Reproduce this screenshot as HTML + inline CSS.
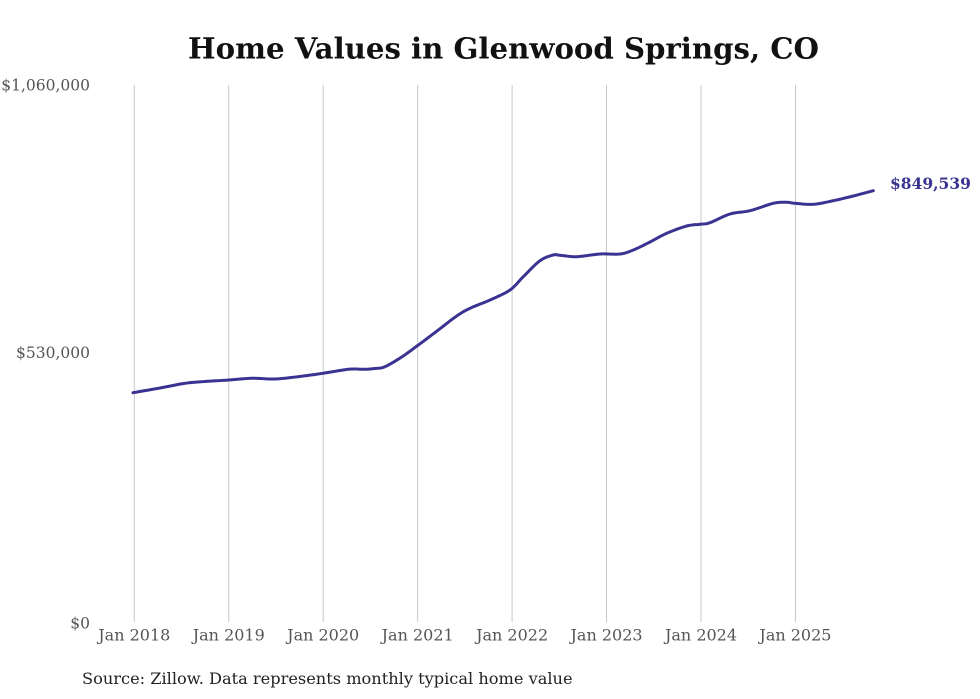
<!DOCTYPE html>
<html>
<head>
<meta charset="utf-8">
<style>
  html,body{margin:0;padding:0;background:#fff;}
  body{width:980px;height:699px;overflow:hidden;}
  svg{display:block;}
  text{font-family:"DejaVu Serif","Liberation Serif",serif;}
</style>
</head>
<body>
<svg width="980" height="699" viewBox="0 0 980 699" xmlns="http://www.w3.org/2000/svg">
  <rect width="980" height="699" fill="#fff"/>
  <text x="503.5" y="58.5" text-anchor="middle" font-size="29.2" font-weight="bold" fill="#111">Home Values in Glenwood Springs, CO</text>

  <g stroke="#c8c8c8" stroke-width="1">
    <line x1="134.3" y1="85" x2="134.3" y2="622"/>
    <line x1="228.75" y1="85" x2="228.75" y2="622"/>
    <line x1="323.2" y1="85" x2="323.2" y2="622"/>
    <line x1="417.65" y1="85" x2="417.65" y2="622"/>
    <line x1="512.1" y1="85" x2="512.1" y2="622"/>
    <line x1="606.55" y1="85" x2="606.55" y2="622"/>
    <line x1="701" y1="85" x2="701" y2="622"/>
    <line x1="795.45" y1="85" x2="795.45" y2="622"/>
  </g>

  <g font-size="15.5" fill="#555" text-anchor="end">
    <text x="90" y="90.5">$1,060,000</text>
    <text x="90" y="358">$530,000</text>
    <text x="90" y="628.5">$0</text>
  </g>

  <g font-size="16" fill="#555" text-anchor="middle">
    <text x="134.3" y="640.5">Jan 2018</text>
    <text x="228.75" y="640.5">Jan 2019</text>
    <text x="323.2" y="640.5">Jan 2020</text>
    <text x="417.65" y="640.5">Jan 2021</text>
    <text x="512.1" y="640.5">Jan 2022</text>
    <text x="606.55" y="640.5">Jan 2023</text>
    <text x="701" y="640.5">Jan 2024</text>
    <text x="795.45" y="640.5">Jan 2025</text>
  </g>

  <polyline id="ln" fill="none" stroke="#3b3391" stroke-width="3" stroke-linejoin="round" stroke-linecap="round"
    points="133,392.7 160,388 185,383.3 205,381.5 229,380 252,378.3 275,379 298,376.7 323,373.3 340,370.5 351.7,369 365,369.3 375,368.5 385,366.7 401.7,357 417,346 437,331 456.7,316 470,308.3 490,300 510,290 523.3,276.7 540,260.7 553.3,255 560,255.3 576.7,256.7 600,254 620,254 633.3,250 650,242 666.7,233.3 686.7,226 700,224.3 710,222.7 730,214 750,210.7 773.3,203.3 786.7,202.3 795,203.3 813.3,204.3 833.3,200.7 853.3,196 873.3,190.7"/>

  <text x="890" y="189" font-size="15.5" font-weight="bold" fill="#3b3391">$849,539</text>

  <text x="82" y="684" font-size="16.2" fill="#222">Source: Zillow. Data represents monthly typical home value</text>
</svg>
<script>
(function(){
  var el=document.getElementById('ln');
  var raw=el.getAttribute('points').trim().split(/\s+/).map(function(s){var a=s.split(',');return [+a[0],+a[1]];});
  var out=[];
  for(var i=0;i<raw.length-1;i++){
    var p0=raw[Math.max(0,i-1)],p1=raw[i],p2=raw[i+1],p3=raw[Math.min(raw.length-1,i+2)];
    for(var k=0;k<8;k++){
      var t=k/8,t2=t*t,t3=t2*t;
      var x=0.5*((2*p1[0])+(-p0[0]+p2[0])*t+(2*p0[0]-5*p1[0]+4*p2[0]-p3[0])*t2+(-p0[0]+3*p1[0]-3*p2[0]+p3[0])*t3);
      var y=0.5*((2*p1[1])+(-p0[1]+p2[1])*t+(2*p0[1]-5*p1[1]+4*p2[1]-p3[1])*t2+(-p0[1]+3*p1[1]-3*p2[1]+p3[1])*t3);
      out.push(x.toFixed(2)+','+y.toFixed(2));
    }
  }
  var last=raw[raw.length-1];out.push(last[0]+','+last[1]);
  el.setAttribute('points',out.join(' '));
})();
</script>
</body>
</html>
